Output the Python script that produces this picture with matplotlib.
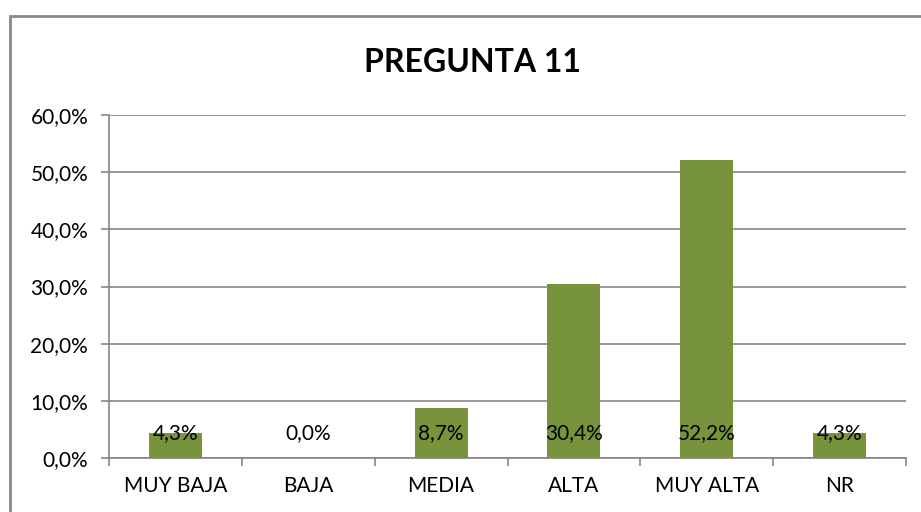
import matplotlib
matplotlib.use("Agg")
import matplotlib.pyplot as plt
from matplotlib.patches import Rectangle
from matplotlib.ticker import FuncFormatter, MultipleLocator

categories = ["MUY BAJA", "BAJA", "MEDIA", "ALTA", "MUY ALTA", "NR"]
values = [4.3, 0.0, 8.7, 30.4, 52.2, 4.3]
title = "PREGUNTA 11"

plt.rcParams['font.family'] = ['Lato', 'DejaVu Sans']

W, H = 921, 512
fig = plt.figure(figsize=(W / 100, H / 100), dpi=100)
ax = fig.add_axes([109 / W, (H - 458) / H, (906 - 109) / W, (458 - 115) / H])

grid_c = "#868686"
bar_c = "#77933C"
fs = 15

x = list(range(len(categories)))
ax.bar(x, values, width=0.4, color=bar_c, zorder=3)

ax.set_xlim(-0.5, len(categories) - 0.5)
ax.set_ylim(0, 60)
ax.yaxis.set_major_locator(MultipleLocator(10))
ax.yaxis.set_major_formatter(FuncFormatter(lambda v, p: f"{v:.1f}%".replace(".", ",")))
ax.grid(axis="y", color=grid_c, linewidth=1.2, zorder=0)
ax.set_axisbelow(True)

for s in ["top", "right"]:
    ax.spines[s].set_visible(False)
for s in ["left", "bottom"]:
    ax.spines[s].set_color(grid_c)
    ax.spines[s].set_linewidth(1.2)

ax.tick_params(axis="y", length=6, color=grid_c, width=1.2, labelsize=fs, pad=9)
ax.set_xticks([i - 0.5 for i in range(len(categories) + 1)])
ax.set_xticklabels([])
ax.set_xticks(x, minor=True)
ax.set_xticklabels(categories, minor=True)
ax.tick_params(axis="x", which="major", length=6, color=grid_c, width=1.2)
ax.tick_params(axis="x", which="minor", length=0, labelsize=fs, pad=13)

for xi, v in zip(x, values):
    lbl = f"{v:.1f}%".replace(".", ",")
    ax.annotate(lbl, (xi, 0), xytext=(0, 18), textcoords="offset points",
                ha="center", va="center", fontsize=fs, color="black", zorder=4)

fig.text(472 / W, 1 - 62 / H, title, ha="center", va="center",
         fontsize=23, fontweight="bold")

fig.patches.append(Rectangle((10 / W, -0.1), 1.2, 1.1 - 16 / H,
                             transform=fig.transFigure, fill=False,
                             edgecolor="#888888", linewidth=2))

fig.savefig("out.png", dpi=100)
